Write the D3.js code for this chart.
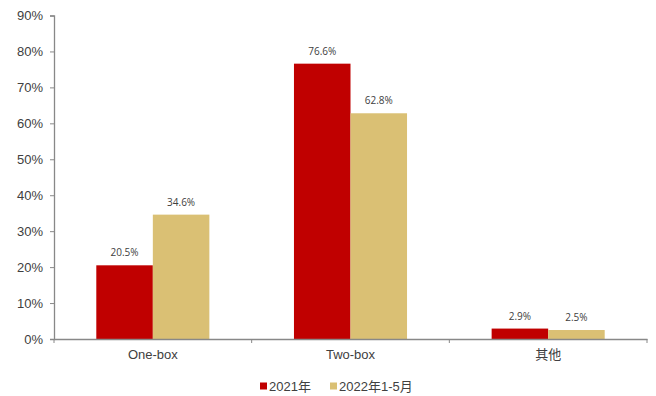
<!DOCTYPE html>
<html><head><meta charset="utf-8">
<script src="https://cdn.jsdelivr.net/npm/d3@7"></script>
<style>body{margin:0;background:#fff;} svg{display:block;}</style>
</head><body>
<svg id="c" width="656" height="396"></svg>
<script>
const categories = ["One-box", "Two-box", "其他"];
const seriesNames = ["2021年", "2022年1-5月"];
const values2021 = [20.5, 76.6, 2.9];
const values2022 = [34.6, 62.8, 2.5];
const yTicks = [0, 10, 20, 30, 40, 50, 60, 70, 80, 90];
const colors = ["#C00000", "#DAC074"];

const svg = d3.select("#c");
const m = {left: 54, right: 9, top: 15.5, bottom: 57};
const W = 656, H = 396;
const x = d3.scaleBand().domain(categories).range([m.left, W - m.right]).paddingInner(0).paddingOuter(0);
const y = d3.scaleLinear().domain([0, 90]).range([H - m.bottom, m.top]);
const inner = d3.scaleBand().domain([0, 1]).range([0, x.bandwidth()]).paddingOuter(0.75).paddingInner(0);
// compute padding so groups take ~57% of band
const groupW = x.bandwidth() * 0.572;
const off = (x.bandwidth() - groupW) / 2;
const bw = groupW / 2;

const data = [values2021, values2022];
const g = svg.append("g");
data.forEach((vals, si) => {
  g.selectAll(".b" + si).data(vals).enter().append("rect")
    .attr("x", (d, i) => x(categories[i]) + off + si * bw)
    .attr("y", d => y(d))
    .attr("width", bw)
    .attr("height", d => y(0) - y(d))
    .attr("fill", colors[si]);
  g.selectAll(".l" + si).data(vals).enter().append("text")
    .attr("x", (d, i) => x(categories[i]) + off + si * bw + bw / 2)
    .attr("y", d => y(d) - 9)
    .attr("text-anchor", "middle")
    .attr("font-family", "Open Sans, Liberation Sans, sans-serif")
    .attr("font-size", 10)
    .attr("fill", "#404040")
    .text(d => d.toFixed(1) + "%");
});

// Y axis
const yAxis = d3.axisLeft(y).tickValues(yTicks).tickFormat(d => d + "%").tickSize(4).tickPadding(7);
const ya = svg.append("g").attr("transform", `translate(${m.left},0)`).call(yAxis);
ya.select(".domain").attr("stroke", "#888").attr("stroke-width", 1.3);
ya.selectAll(".tick line").attr("stroke", "#888");
ya.selectAll("text").attr("font-family", "Liberation Sans, Arial, sans-serif").attr("font-size", 13).attr("fill", "#404040");

// X axis
const xAxis = d3.axisBottom(x).tickSize(0).tickPadding(11);
const xa = svg.append("g").attr("transform", `translate(0,${y(0)})`).call(xAxis);
xa.select(".domain").attr("stroke", "#888").attr("stroke-width", 1.3);
xa.selectAll("text").attr("font-family", "Liberation Sans, Noto Sans CJK SC, sans-serif").attr("font-size", 13).attr("fill", "#404040");
// boundary ticks
const bounds = categories.map(c => x(c) + x.bandwidth()).concat([m.left]);
svg.append("g").selectAll("line").data(bounds).enter().append("line")
  .attr("x1", d => d).attr("x2", d => d)
  .attr("y1", y(0)).attr("y2", y(0) + 4)
  .attr("stroke", "#888");

// Legend
const leg = svg.append("g").attr("transform", "translate(0,386)");
const legX = [260, 330];
seriesNames.forEach((s, i) => {
  leg.append("rect").attr("x", legX[i]).attr("y", -3.5).attr("width", 7).attr("height", 7).attr("fill", colors[i]);
  leg.append("text").attr("x", legX[i] + 9).attr("y", 0).attr("dy", "0.35em")
    .attr("font-family", "Liberation Sans, Noto Sans CJK SC, sans-serif").attr("font-size", 13).attr("fill", "#404040").text(s);
});
</script>
</body></html>
